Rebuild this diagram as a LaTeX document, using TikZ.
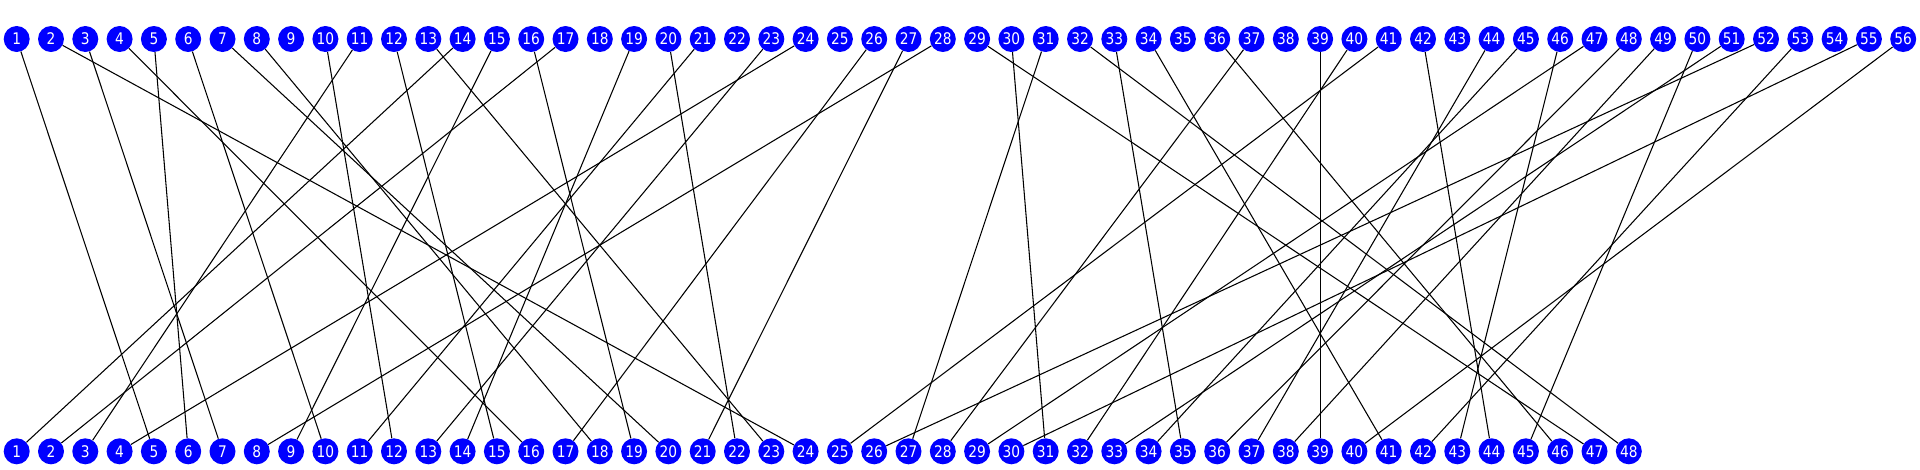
\documentclass[tikz,border=0pt]{standalone}
\usepackage{fontspec}
\newfontfamily\labfont[FakeStretch=0.86]{DejaVu Sans}
\definecolor{nodeblue}{RGB}{0,0,255}
\tikzset{
  vtx/.style={circle, fill=nodeblue, draw=none, minimum size=19.5pt, inner sep=0pt,
    text=white, font=\labfont\fontsize{12}{12}\selectfont},
  edge/.style={line width=0.8pt, black}
}
\begin{document}
\begin{tikzpicture}[x=0.75pt,y=-0.75pt]
\useasboundingbox (0,0) rectangle (1920,469);
\foreach \i in {1,...,56} \node[vtx] (t\i) at ({16.7+(\i-1)*34.3},39) {\i};
\foreach \i in {1,...,48} \node[vtx] (b\i) at ({16.7+(\i-1)*34.3},451.3) {\i};
\foreach \a/\b in {1/5, 2/24, 3/7, 4/16, 5/6, 6/10, 7/20, 8/18, 10/12, 11/3, 12/15,
  13/23, 14/1, 15/9, 16/19, 17/2, 19/14, 20/22, 21/11, 23/13, 24/4, 26/17, 27/21,
  28/8, 29/47, 30/31, 31/27, 32/48, 33/35, 34/41, 36/46, 37/28, 39/39, 40/32,
  41/25, 42/44, 44/37, 45/34, 46/43, 47/29, 48/36, 49/38, 50/45, 51/33, 52/26,
  53/42, 55/30, 56/40}
  \draw[edge] (t\a) -- (b\b);
\end{tikzpicture}
\end{document}
